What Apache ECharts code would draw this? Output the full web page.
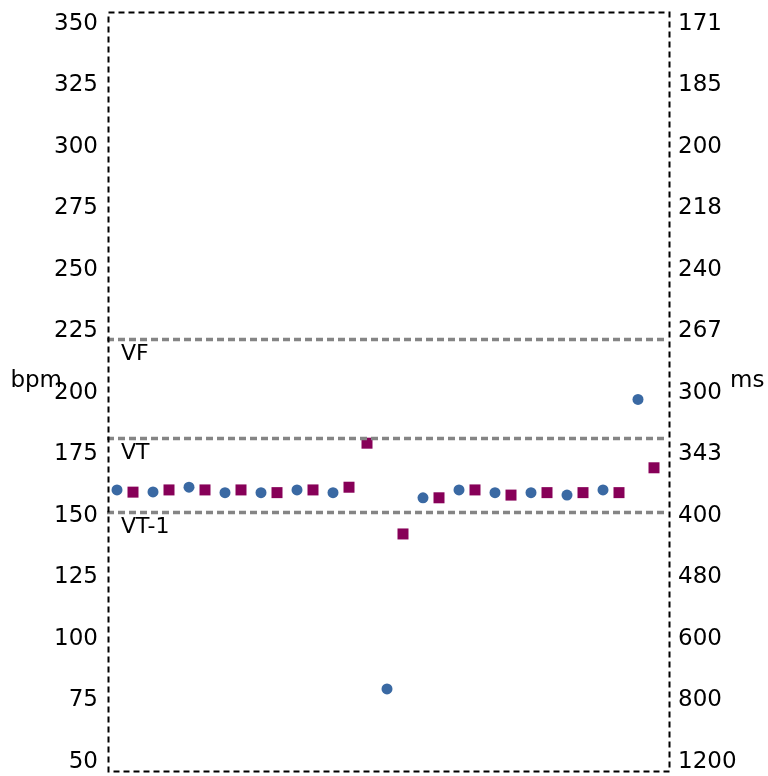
<!DOCTYPE html>
<html><head><meta charset="utf-8">
<script src="https://cdn.jsdelivr.net/npm/echarts@6/dist/echarts.min.js"></script>
<style>html,body{margin:0;padding:0;background:#fff}#c{width:768px;height:776px}</style>
</head><body><div id="c"></div>
<script>
// bpm tick values (left axis) and corresponding interval labels in ms (right axis)
const bpmTicks = [50, 75, 100, 125, 150, 175, 200, 225, 250, 275, 300, 325, 350];
const msTickLabels = ['1200', '800', '600', '480', '400', '343', '300', '267', '240', '218', '200', '185', '171'];

// Zone thresholds (bpm)
const zoneNames = ['VF', 'VT', 'VT-1'];
const zoneBpm = [222.0, 181.7, 151.6];

// Beat series: time position and rate (bpm)
const circleX = [1.0, 4.6, 8.2, 11.8, 15.4, 19.0, 22.6, 28.0, 31.6, 35.2, 38.8, 42.4, 46.0, 49.6, 53.1];
const circleBpm = [160.6, 159.8, 161.7, 159.5, 159.5, 160.6, 159.5, 79.7, 157.4, 160.6, 159.5, 159.5, 158.5, 160.6, 197.4];
const squareX = [2.6, 6.2, 9.8, 13.4, 17.0, 20.6, 24.2, 26.0, 29.6, 33.2, 36.8, 40.4, 44.0, 47.6, 51.2, 54.7];
const squareBpm = [159.7, 160.6, 160.6, 160.6, 159.5, 160.6, 161.7, 179.6, 142.7, 157.4, 160.6, 158.5, 159.5, 159.5, 159.5, 169.6];

const FONT = 'DejaVu Sans';
const chart = echarts.init(document.getElementById('c'), null, {renderer: 'canvas'});
const zip = (xs, ys) => xs.map((x, i) => [x, ys[i]]);

chart.setOption({
  animation: false,
  backgroundColor: '#fff',
  textStyle: {fontFamily: FONT},
  grid: {left: 107, right: 100, top: 24, bottom: 14, containLabel: false, outerBoundsMode: 'none'},
  xAxis: {type: 'value', min: 0, max: 56.1, show: false},
  yAxis: [
    {
      type: 'value', min: 50, max: 350, interval: 25, position: 'left',
      name: 'bpm', nameLocation: 'middle', nameRotate: 0, nameGap: 45, nameMoveOverlap: false,
      nameTextStyle: {fontSize: 23, color: '#000', fontFamily: FONT, verticalAlign: 'bottom', align: 'right'},
      axisLine: {show: false}, axisTick: {show: false}, splitLine: {show: false},
      axisLabel: {fontSize: 23, color: '#000', fontFamily: FONT, margin: 9, padding: [5, 0, 0, 0]}
    },
    {
      type: 'value', min: 50, max: 350, interval: 25, position: 'right',
      name: 'ms', nameLocation: 'middle', nameRotate: 0, nameGap: 62, nameMoveOverlap: false,
      nameTextStyle: {fontSize: 23, color: '#000', fontFamily: FONT, verticalAlign: 'bottom', align: 'left'},
      axisLine: {show: false}, axisTick: {show: false}, splitLine: {show: false},
      axisLabel: {
        fontSize: 23, color: '#000', fontFamily: FONT, margin: 10, padding: [5, 0, 0, 0],
        formatter: v => { const i = bpmTicks.indexOf(v); return i >= 0 ? msTickLabels[i] : ''; }
      }
    }
  ],
  graphic: [{
    type: 'rect', left: 106, top: 10, z: 10, silent: true,
    shape: {x: 0, y: 0, width: 561, height: 759},
    style: {fill: null, stroke: '#000', lineWidth: 2, lineDash: [6, 4]}
  }],
  series: [
    {
      type: 'scatter', name: 'circles', data: zip(circleX, circleBpm),
      symbol: 'circle', symbolSize: 11, itemStyle: {color: '#3a69a3', opacity: 1},
      markLine: {
        silent: true, symbol: 'none', animation: false,
        lineStyle: {color: '#858585', width: 3.4, type: [7, 4]},
        label: {
          position: 'insideStartBottom', formatter: p => p.name,
          fontSize: 22, color: '#000', fontFamily: FONT, distance: [14, 4]
        },
        data: zoneBpm.map((v, i) => ({name: zoneNames[i], yAxis: v}))
      }
    },
    {
      type: 'scatter', name: 'squares', data: zip(squareX, squareBpm),
      symbol: 'rect', symbolSize: 11, itemStyle: {color: '#870058', opacity: 1}
    }
  ]
});
</script></body></html>
